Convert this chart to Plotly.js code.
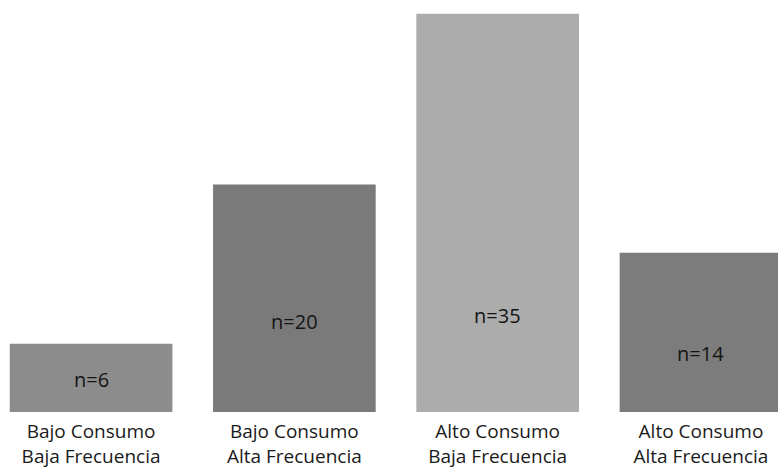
<!DOCTYPE html>
<html>
<head>
<meta charset="utf-8">
<script src="https://cdn.plot.ly/plotly-3.0.1.min.js"></script>
<style>html,body{margin:0;padding:0;background:#fff;}#chart{width:778px;height:472px;}</style>
</head>
<body>
<div id="chart"></div>
<script>
const categories = ["Bajo Consumo<br>Baja Frecuencia", "Bajo Consumo<br>Alta Frecuencia", "Alto Consumo<br>Baja Frecuencia", "Alto Consumo<br>Alta Frecuencia"];
const counts = [6, 20, 35, 14];
const labels = ["n=6", "n=20", "n=35", "n=14"];
const barColors = ["#8c8c8c", "#7a7a7a", "#acacac", "#7c7c7c"];
const labelHeights = [2.85, 7.95, 8.5, 5.1];

const trace = {
  type: "bar",
  x: categories,
  y: counts,
  marker: {color: barColors, line: {width: 0}},
  hoverinfo: "skip"
};

const annotations = labels.map((t, i) => ({
  x: categories[i], y: labelHeights[i], xref: "x", yref: "y",
  text: t, showarrow: false,
  font: {family: "'Open Sans', sans-serif", size: 20, color: "#151515"}
}));

const layout = {
  width: 778, height: 472,
  margin: {l: 0, r: 0, t: 0, b: 60, pad: 0},
  paper_bgcolor: "#ffffff", plot_bgcolor: "#ffffff",
  bargap: 0.2,
  showlegend: false,
  xaxis: {
    type: "category", range: [-0.448, 3.379],
    showgrid: false, zeroline: false, showline: false, ticks: "",
    tickfont: {family: "'Open Sans', sans-serif", size: 19, color: "#1a1a1a"},
    ticklabelstandoff: 6
  },
  yaxis: {range: [0, 36.2], visible: false, showgrid: false, zeroline: false},
  annotations: annotations
};

Plotly.newPlot("chart", [trace], layout, {staticPlot: true, displayModeBar: false});
</script>
</body>
</html>
